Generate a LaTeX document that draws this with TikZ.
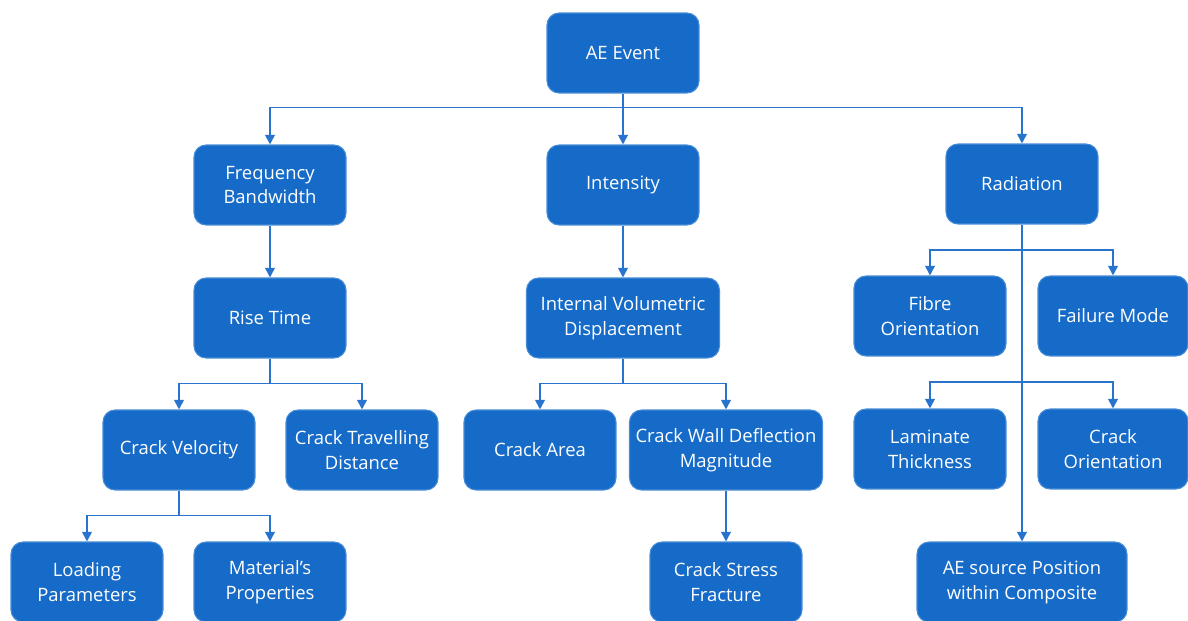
\documentclass[tikz,border=0pt]{standalone}
\usepackage{fontspec}
\setmainfont{Open Sans}
\usetikzlibrary{arrows.meta}

\definecolor{boxblue}{RGB}{22,107,200}
\definecolor{edgeblue}{RGB}{70,140,215}
\definecolor{lineblue}{RGB}{40,115,205}

\tikzset{
    box/.style={draw=edgeblue, fill=boxblue, text=white, rounded corners=0.24cm,
        minimum width=3.04cm, minimum height=1.6cm, align=center, line width=0.6pt,
        font=\fontsize{10.5}{14.2}\selectfont, inner sep=2pt},
    wide/.style={box, minimum width=3.86cm},
    link/.style={draw=lineblue, line width=1.1pt},
    arrow/.style={link, -{Triangle[length=5.5pt, width=5.5pt]}},
}

\begin{document}
\begin{tikzpicture}[x=0.02cm, y=-0.02cm]
    \useasboundingbox (0,0) rectangle (1188,621);

    % --- Niveau 0 ---
    \node[box] (ae) at (623,53) {AE Event};

    % --- Niveau 1 ---
    \node[box] (freq) at (270,185) {Frequency\\Bandwidth};
    \node[box] (inten) at (623,185) {Intensity};
    \node[box] (rad) at (1022,184) {Radiation};

    % --- Niveau 2 ---
    \node[box] (rise) at (270,318) {Rise Time};
    \node[wide] (ivd) at (623,318) {Internal Volumetric\\Displacement};
    \node[box] (fibre) at (930,316) {Fibre\\Orientation};
    \node[box, minimum width=3.0cm] (fail) at (1113,316) {Failure Mode};

    % --- Niveau 3 ---
    \node[box] (vel) at (179,450) {Crack Velocity};
    \node[box] (dist) at (362,450) {Crack Travelling\\Distance};
    \node[box] (area) at (540,450) {Crack Area};
    \node[wide] (wall) at (726,450) {Crack Wall Deflection\\Magnitude};
    \node[box] (lam) at (930,449) {Laminate\\Thickness};
    \node[box, minimum width=3.0cm] (orient) at (1113,449) {Crack\\Orientation};

    % --- Niveau 4 ---
    \node[box] (load) at (87,582) {Loading\\Parameters};
    \node[box] (mat) at (270,582) {Material's\\Properties};
    \node[box] (stress) at (726,582) {Crack Stress\\Fracture};
    \node[box, minimum width=4.2cm] (src) at (1022,582) {AE source Position\\within Composite};

    % --- Liaisons depuis AE Event ---
    \draw[link] (ae.south) -- ++(0,14) coordinate (j0);
    \draw[arrow] (j0) -| (freq.north);
    \draw[arrow] (j0) -| (rad.north);
    \draw[arrow] (ae.south) -- (inten.north);

    % --- Branche gauche ---
    \draw[arrow] (freq.south) -- (rise.north);
    \draw[link] (rise.south) -- ++(0,25) coordinate (j1);
    \draw[arrow] (j1) -| (vel.north);
    \draw[arrow] (j1) -| (dist.north);
    \draw[link] (vel.south) -- ++(0,25) coordinate (j2);
    \draw[arrow] (j2) -| (load.north);
    \draw[arrow] (j2) -| (mat.north);

    % --- Branche centrale ---
    \draw[arrow] (inten.south) -- (ivd.north);
    \draw[link] (ivd.south) -- ++(0,25) coordinate (j3);
    \draw[arrow] (j3) -| (area.north);
    \draw[arrow] (j3) -| (wall.north);
    \draw[arrow] (wall.south) -- (stress.north);

    % --- Branche droite ---
    \draw[arrow] (rad.south) -- (src.north);
    \coordinate (j4) at (rad.south |- 0,250);
    \coordinate (j5) at (rad.south |- 0,382);
    \draw[arrow] (j4) -| (fibre.north);
    \draw[arrow] (j4) -| (fail.north);
    \draw[arrow] (j5) -| (lam.north);
    \draw[arrow] (j5) -| (orient.north);

\end{tikzpicture}
\end{document}
